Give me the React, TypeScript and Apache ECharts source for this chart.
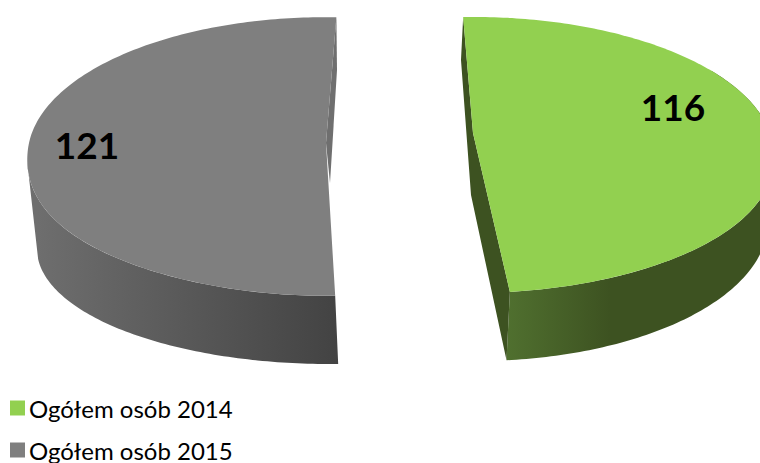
import React, { useEffect, useRef } from "react";
import * as echarts from "echarts";

const seriesNames = ["Ogółem osób 2014", "Ogółem osób 2015"];
const seriesValues = [116, 121];
const seriesColors = ["#92D050", "#7F7F7F"];
const fontFamily = "Lato, 'Open Sans', sans-serif";
const total = seriesValues.reduce((a, b) => a + b, 0);

const geometry = [
  {
    // top face projection
    cx: 473, cy: 133, A: 134.5, k: 0.159, W: 297, start: -2.2, bulge: 0.012,
    // lower rim ellipse
    bx: 476, by: 222, ba: 292, bb: 139,
    topEnd: 60, rimEnd: 90,
    backBottom: [461, 60], apexBottom: [471, 195],
    wall: "#3D5221", frontWall: true,
    gradient: [506, 610, "#50702F", "#3D5221"],
    label: [673, 106],
  },
  {
    cx: 326, cy: 143, A: 138, k: 0.0968, W: 297, start: 178.4, bulge: 0.025,
    bx: 330, by: 249, ba: 293, bb: 115,
    topEnd: 262, rimEnd: 265,
    backBottom: [337, 70], apexBottom: [330, 183],
    wall: "#6F6F6F", frontWall: false,
    gradient: [37, 337, "#6E6E6E", "#434343"],
    label: [87, 144],
  },
];

const rad = (d: number) => (d * Math.PI) / 180;

function topPoint(g: any, deg: number) {
  const s = Math.sin(rad(deg));
  const v = Math.cos(rad(deg));
  const w = Math.sin(rad(2 * deg));
  const u = v < 0 ? s * (1 + g.bulge * w * w) : s;
  const den = 1 + g.k * v;
  return [g.cx + (g.W * u) / den, g.cy - (g.A * v) / den];
}
function rimPoint(g: any, deg: number) {
  return [g.bx + g.ba * Math.sin(rad(deg)), g.by - g.bb * Math.cos(rad(deg))];
}
function arc(fn: (d: number) => number[], from: number, to: number) {
  const n = Math.max(2, Math.ceil(Math.abs(to - from)));
  const out: number[][] = [];
  for (let i = 0; i <= n; i++) out.push(fn(from + ((to - from) * i) / n));
  return out;
}

function makeRender(index: number) {
  return (_params: any, api: any) => {
    const g: any = geometry[index];
    const value = api.value(0) as number;
    const span = (value / total) * 360;
    const a0 = g.start;
    const a1 = g.start + span;
    const front = index === 0 ? a1 : a0;
    const back = index === 0 ? a0 : a1;
    const T = (d: number) => topPoint(g, d);
    const R = (d: number) => rimPoint(g, d);
    const apex = [g.cx, g.cy];
    const sidePts = [...arc(T, g.topEnd, front), ...arc(R, front, g.rimEnd)];
    const facePts = [apex, ...arc(T, a0, a1)];
    const wallPts = g.frontWall
      ? [T(back), g.backBottom, g.apexBottom, R(front), T(front), apex]
      : [T(back), g.backBottom, g.apexBottom, apex];
    const [gx0, gx1, c0, c1] = g.gradient;
    return {
      type: "group",
      children: [
        {
          type: "polygon",
          shape: { points: sidePts },
          style: { fill: new echarts.graphic.LinearGradient(gx0, 0, gx1, 0, [
            { offset: 0, color: c0 },
            { offset: 1, color: c1 },
          ], true) },
        },
        { type: "polygon", shape: { points: wallPts }, style: { fill: g.wall } },
        { type: "polygon", shape: { points: facePts }, style: { fill: seriesColors[index] } },
        {
          type: "text",
          x: g.label[0],
          y: g.label[1],
          style: {
            text: String(value),
            fill: "#000",
            font: `bold 37px ${fontFamily}`,
            align: "center",
            verticalAlign: "middle",
          },
        },
      ],
    };
  };
}

export default function App() {
  const ref = useRef<HTMLDivElement>(null);
  useEffect(() => {
    const chart = echarts.init(ref.current!, null, { renderer: "svg" });
    chart.setOption({
      animation: false,
      legend: {
        orient: "vertical",
        left: 10,
        top: 396,
        height: 200,
        padding: 0,
        icon: "rect",
        itemWidth: 15,
        itemHeight: 15,
        itemGap: 18,
        itemStyle: { borderWidth: 0 },
        data: seriesNames,
        textStyle: { fontFamily, fontSize: 24, color: "#000", padding: [0, 0, 4, -1] },
      },
      series: seriesNames.map((name, i) => ({
        type: "custom",
        name,
        coordinateSystem: "none",
        itemStyle: { color: seriesColors[i] },
        renderItem: makeRender(i),
        data: [[seriesValues[i]]],
      })),
    });
    return () => chart.dispose();
  }, []);
  return (
    <div
      ref={ref}
      style={{ position: "fixed", left: 0, top: 0, width: 760, height: 463, overflow: "hidden", background: "#fff" }}
    />
  );
}
